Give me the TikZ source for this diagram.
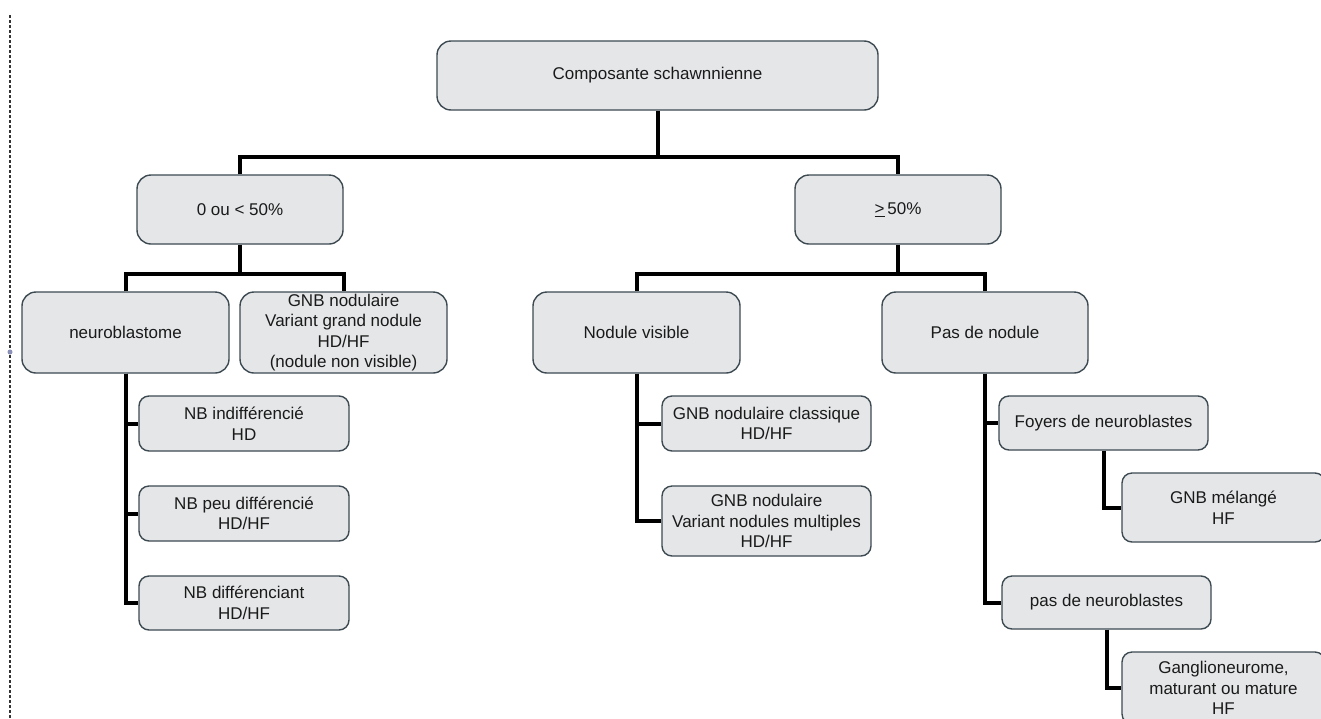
\documentclass[tikz,border=0pt]{standalone}
\usepackage{fontspec}
\setmainfont{Liberation Sans}
\definecolor{boxfill}{HTML}{E5E6E8}
\definecolor{boxline}{HTML}{3D4A52}
\definecolor{dashcol}{HTML}{333333}
\definecolor{dotcol}{HTML}{8A90B8}
\definecolor{txtcol}{HTML}{1A1A1A}
\begin{document}
\begin{tikzpicture}[x=1pt,y=-1pt,
  base/.style={draw=boxline,fill=boxfill,line width=1.4pt,align=center,inner sep=0pt,
    text=txtcol,font=\fontsize{17}{20.5}\selectfont},
  bigbox/.style={base,rounded corners=14pt,minimum width=207pt,minimum height=81pt},
  midbox/.style={base,rounded corners=14pt,minimum width=206pt,minimum height=69pt},
  smallbox/.style={base,rounded corners=10pt,minimum width=209pt,minimum height=55pt},
  link/.style={line width=4pt,black}]
\clip (0,0) rectangle (1321,718);
\useasboundingbox (0,0) rectangle (1321,718);
\fill[white] (0,0) rectangle (1321,718);
% left dashed margin line
\coordinate (m1) at (10,15);
\coordinate (m2) at (10,718);
\draw[dashcol,line width=1.3pt,dash pattern=on 3pt off 2pt] (m1) -- (m2);
\fill[dotcol] (10,352) circle (2.5pt);
% nodes
\node[midbox,minimum width=441pt] (top) at (657.5,75.5) {Composante schawnnienne};
\node[midbox] (lt50) at (240,209.5) {0 ou < 50\%};
\node[midbox] (ge50) at (898,209.5) {\underline{>}\,50\%};
\node[bigbox] (neuro) at (125.5,332.5) {neuroblastome};
\node[bigbox] (gnbgrand) at (343.5,332.5) {GNB nodulaire\\Variant grand nodule\\HD/HF\\(nodule non visible)};
\node[bigbox] (nodvis) at (636.5,332.5) {Nodule visible};
\node[bigbox,minimum width=206pt] (pasnod) at (985,332.5) {Pas de nodule};
\node[smallbox,minimum width=210pt] (nbind) at (244,423.5) {NB indifférencié\\HD};
\node[smallbox,minimum width=210pt] (nbpeu) at (244,513.5) {NB peu différencié\\HD/HF};
\node[smallbox,minimum width=210pt,minimum height=54pt] (nbdiff) at (244,603) {NB différenciant\\HD/HF};
\node[smallbox] (gnbclass) at (766.5,423.5) {GNB nodulaire classique\\HD/HF};
\node[smallbox,minimum height=70pt] (gnbmult) at (766.5,521) {GNB nodulaire\\Variant nodules multiples\\HD/HF};
\node[smallbox,minimum height=54pt] (foyers) at (1103.5,423) {Foyers de neuroblastes};
\node[smallbox,minimum width=203pt,minimum height=69pt] (gnbmel) at (1223.5,507.5) {GNB mélangé\\HF};
\node[smallbox,minimum height=53pt] (pasneuro) at (1106.5,602.5) {pas de neuroblastes};
\node[smallbox,minimum width=203pt,minimum height=72pt] (gangl) at (1223.5,688) {Ganglioneurome,\\maturant ou mature\\HF};
% junctions
\coordinate (j1) at (657.5,157);
\coordinate (j2) at (240,274);
\coordinate (j3) at (898,274);
% connectors
\draw[link] (top.south) -- (j1);
\draw[link] (lt50.north) |- (j1) -| (ge50.north);
\draw[link] (lt50.south) -- (j2);
\draw[link] (neuro.north) |- (j2) -| (gnbgrand.north);
\draw[link] (ge50.south) -- (j3);
\draw[link] (nodvis.north) |- (j3) -| (pasnod.north);
\draw[link] (neuro.south) |- (nbind.west);
\draw[link] (neuro.south) |- (nbpeu.west);
\draw[link] (neuro.south) |- (nbdiff.west);
\draw[link] (nodvis.south) |- (gnbclass.west);
\draw[link] (nodvis.south) |- (gnbmult.west);
\draw[link] (pasnod.south) |- (foyers.west);
\draw[link] (pasnod.south) |- (pasneuro.west);
\draw[link] (foyers.south) |- (gnbmel.west);
\draw[link] (pasneuro.south) |- (gangl.west);
\end{tikzpicture}
\end{document}
